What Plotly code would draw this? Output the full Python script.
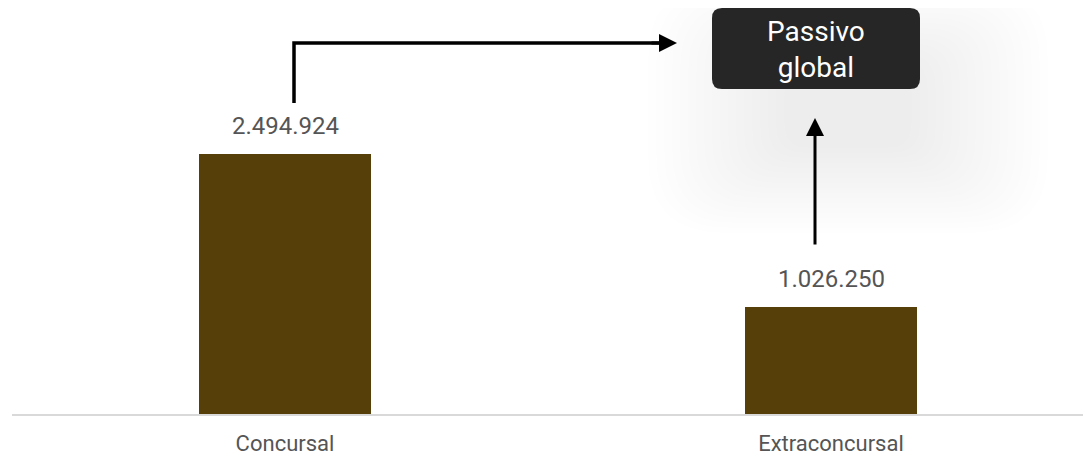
import plotly.graph_objects as go

categories = ["Concursal", "Extraconcursal"]
values = [2494924, 1026250]
value_labels = ["2.494.924", "1.026.250"]
box_text = "Passivo<br>global"

OFF = 8  # page body margin
W, H = 1091, 456
ML, MR, MT, MB = 4, 0, 0, 50
PW, PH = W - ML - MR, H - MT - MB

def px(s):
    return (s - OFF - ML) / PW

def py(s):
    return (PH - (s - OFF - MT)) / PH

bar_color = "#573f0a"

fig = go.Figure()
fig.add_trace(go.Bar(
    x=[0, 1], y=values, width=0.315,
    marker=dict(color=bar_color, line=dict(width=0)),
    cliponaxis=False, hoverinfo="skip",
))

def rrect(x0, x1, y0, y1, r):
    return (f"M {px(x0+r)},{py(y0)} L {px(x1-r)},{py(y0)} Q {px(x1)},{py(y0)} {px(x1)},{py(y0+r)} "
            f"L {px(x1)},{py(y1-r)} Q {px(x1)},{py(y1)} {px(x1-r)},{py(y1)} "
            f"L {px(x0+r)},{py(y1)} Q {px(x0)},{py(y1)} {px(x0)},{py(y1-r)} "
            f"L {px(x0)},{py(y0+r)} Q {px(x0)},{py(y0)} {px(x0+r)},{py(y0)} Z")

shapes = []
# soft shadow around box
cx, cy = 848, 108
for i in range(18):
    hw = 200 - i * 8
    hh = 125 - i * 5
    rr = min(hw, hh) * 0.6
    shapes.append(dict(type="path", xref="paper", yref="paper",
                       path=rrect(cx - hw, cx + hw, cy - hh, cy + hh, rr),
                       fillcolor="rgba(0,0,0,0.0052)", line=dict(width=0), layer="below"))

# rounded dark box
shapes.append(dict(type="path", xref="paper", yref="paper", path=rrect(712, 920, 8, 89, 10),
                   fillcolor="#262626", line=dict(width=0), layer="above"))

# elbow line (vertical + horizontal part)
shapes.append(dict(type="path", xref="paper", yref="paper",
                   path=f"M {px(294)},{py(103)} L {px(294)},{py(43)} L {px(660)},{py(43)}",
                   line=dict(color="black", width=3.5), layer="above"))

annotations = [
    dict(xref="paper", yref="paper", x=px(816), y=py(49), text=box_text, showarrow=False,
         xanchor="center", yanchor="middle",
         font=dict(family="Roboto", size=28, color="white"), align="center"),
    # horizontal arrow head
    dict(xref="paper", yref="paper", x=px(677), y=py(43), ax=-27, ay=0,
         text="", showarrow=True,
         arrowhead=2, arrowsize=1.2, arrowwidth=3, arrowcolor="black", standoff=0),
    # vertical arrow
    dict(xref="paper", yref="paper", x=px(815), y=py(118), ax=0, ay=128,
         text="", showarrow=True,
         arrowhead=2, arrowsize=1.2, arrowwidth=3, arrowcolor="black", standoff=0),
]
for i, (v, lab) in enumerate(zip(values, value_labels)):
    annotations.append(dict(xref="x", yref="y", x=i, y=v, text=lab, showarrow=False,
                            xanchor="center", yanchor="bottom", yshift=12,
                            font=dict(family="Roboto", size=24, color="#555555")))

fig.update_layout(
    width=W, height=H, margin=dict(l=ML, r=MR, t=MT, b=MB),
    plot_bgcolor="white", paper_bgcolor="white",
    showlegend=False, shapes=shapes, annotations=annotations,
    xaxis=dict(range=[-0.5, -0.5 + PW / 546], tickvals=[0, 1], ticktext=categories,
               showgrid=False, zeroline=False, showline=True, linecolor="#d9d9d9", linewidth=2,
               ticks="", ticklabelstandoff=9,
               tickfont=dict(family="Roboto", size=22, color="#555555"), fixedrange=True),
    yaxis=dict(range=[0, values[0] * PH / 260], visible=False, fixedrange=True),
    bargap=0,
)

fig.write_html("out.html")
